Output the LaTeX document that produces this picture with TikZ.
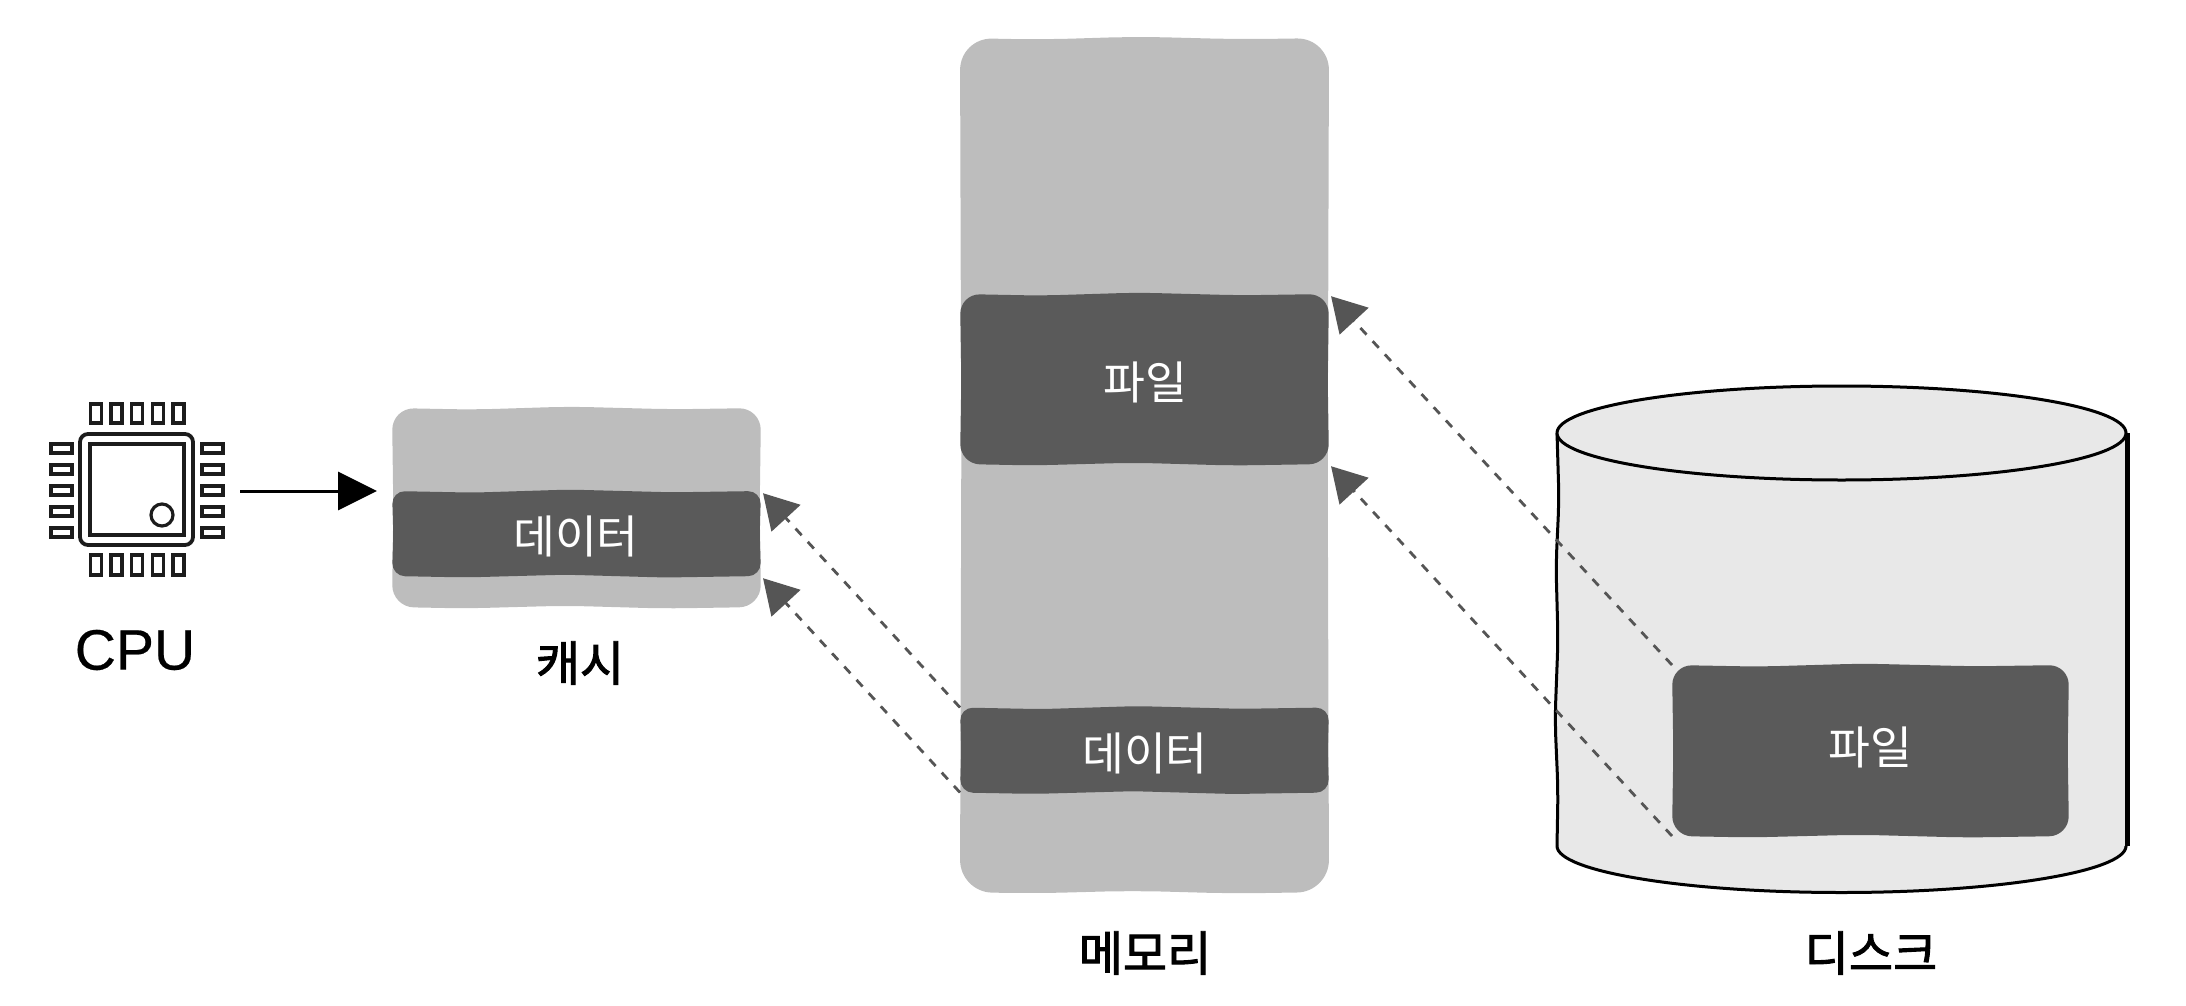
\documentclass[tikz,border=0pt]{standalone}
\usepackage{fontspec}
\setmainfont{Liberation Sans}
\newfontfamily\krfont{Noto Sans CJK KR}
\newfontfamily\krlabelfont[FakeBold=2]{Noto Sans CJK KR}
\newfontfamily\cpufont[FakeBold=0.4]{Liberation Sans}
\usetikzlibrary{calc,arrows.meta}
\definecolor{lightblock}{HTML}{BDBDBD}
\definecolor{darkblock}{HTML}{5A5A5A}
\definecolor{diskfill}{HTML}{E8E8E8}
\definecolor{inkline}{HTML}{1C1C1C}
\definecolor{arrowgray}{HTML}{555555}
\tikzset{
  slot/.style={rectangle,inner sep=0pt,outer sep=0pt},
  darktext/.style={inner sep=0pt,text=white,font=\krfont\fontsize{45.5pt}{46pt}\selectfont},
  boxlabel/.style={inner sep=0pt,text=black,font=\krlabelfont\fontsize{48pt}{48pt}\selectfont},
  pin/.style={draw=inkline,line width=3.4pt,fill=white},
  chip/.style={draw=inkline,line width=3.8pt,fill=white},
  dashlink/.style={draw=arrowgray,line width=2.8pt,dash pattern=on 9pt off 9pt,shorten >=3pt,-{Triangle[length=34pt,width=39pt,fill=arrowgray]}},
  solidlink/.style={draw=black,line width=3pt,shorten >=15pt,-{Triangle[length=39pt,width=38pt,fill=black]}},
  diskline/.style={draw=black,line width=3pt}
}
% hand-drawn box: fills the slot node #1 with radius #2 in colour #3; edges wobble slightly
\newcommand{\handbox}[3]{%
  \fill[#3,rounded corners=#2pt]
    (#1.north west)
    -- ($(#1.north west)!.22!(#1.north east)+(0,1.6)$)
    -- ($(#1.north west)!.48!(#1.north east)+(0,-1.4)$)
    -- ($(#1.north west)!.76!(#1.north east)+(0,1.3)$)
    -- (#1.north east)
    -- ($(#1.north east)!.5!(#1.south east)+(-1.3,0)$)
    -- (#1.south east)
    -- ($(#1.south west)!.74!(#1.south east)+(0,1.5)$)
    -- ($(#1.south west)!.47!(#1.south east)+(0,-1.3)$)
    -- ($(#1.south west)!.2!(#1.south east)+(0,1.4)$)
    -- (#1.south west)
    -- ($(#1.south west)!.5!(#1.north west)+(1.3,0)$)
    -- cycle;}
\begin{document}
\begin{tikzpicture}[x=1pt,y=-1pt]
\useasboundingbox (0,0) rectangle (2186,1006);
% CPU
\draw[chip,rounded corners=8pt] (80,434) rectangle (193,545);
\draw[chip] (90,444) rectangle (184,535);
\draw[draw=inkline,line width=3.2pt] (162,515) circle (11);
\foreach \x in {90.5,111,131.5,152.5,173}{
  \draw[pin] (\x,404) rectangle +(11,19);
  \draw[pin] (\x,555) rectangle +(11,20);
}
\foreach \y in {444,465,486,507,528}{
  \draw[pin] (51,\y) rectangle +(21,9);
  \draw[pin] (202,\y) rectangle +(21,9);
}
\node[inner sep=0pt,text=black,font=\cpufont\fontsize{57pt}{57pt}\selectfont] (cpulabel) at (135,650) {CPU};
\coordinate (cpuout) at (240,491);
% Cache
\node[slot,minimum width=369pt,minimum height=199pt] (cache) at (576.5,507.5) {};
\handbox{cache}{22}{lightblock}
\node[slot,minimum width=369pt,minimum height=85pt] (cachedata) at (576.5,533.5) {};
\handbox{cachedata}{13}{darkblock}
\node[darktext] (cachetext) at (576,536) {데이터};
\node[boxlabel] (cachelabel) at (580,663) {캐시};
% Memory
\node[slot,minimum width=369pt,minimum height=854pt] (memory) at (1144.5,465) {};
\handbox{memory}{32}{lightblock}
\node[slot,minimum width=369pt,minimum height=170pt] (memfile) at (1144.5,379) {};
\handbox{memfile}{20}{darkblock}
\node[darktext] (memfiletext) at (1145,382) {파일};
\node[slot,minimum width=369pt,minimum height=85pt] (memdata) at (1144.5,750) {};
\handbox{memdata}{13}{darkblock}
\node[darktext] (memdatatext) at (1145,753) {데이터};
\node[boxlabel] (memlabel) at (1145,953) {메모리};
% Disk
\fill[diskfill] (1557,433) -- (1557,846) .. controls (1557,871.4) and (1684.4,892.5) .. (1841.5,892.5) .. controls (1998.6,892.5) and (2126,871.4) .. (2126,846) -- (2126,433) -- cycle;
\draw[diskline,rounded corners=18pt] (1557,433) -- (1559,500) -- (1556,565) -- (1558,640) -- (1555,720) -- (1558,790) -- (1557,846);
\draw[diskline] (1557,846) .. controls (1557,871.4) and (1684.4,892.5) .. (1841.5,892.5) .. controls (1998.6,892.5) and (2126,871.4) .. (2126,846);
\draw[draw=black,line width=5pt] (2127,433) -- (2127,846);
\draw[diskline,fill=diskfill] (1841.5,433) ellipse (284.5 and 47);
\node[slot,minimum width=397pt,minimum height=171pt] (diskfile) at (1870.5,750.5) {};
\handbox{diskfile}{20}{darkblock}
\node[darktext] (disktext) at (1870,747) {파일};
\node[boxlabel] (disklabel) at (1871,953) {디스크};
% Connectors
\draw[solidlink] (cpuout) -- (cache.west |- cpuout);
\draw[dashlink] (memdata.north west) -- (cachedata.north east);
\draw[dashlink] (memdata.south west) -- (cachedata.south east);
\draw[dashlink] (diskfile.north west) -- (memfile.north east);
\draw[dashlink] (diskfile.south west) -- (memfile.south east);
\end{tikzpicture}
\end{document}
